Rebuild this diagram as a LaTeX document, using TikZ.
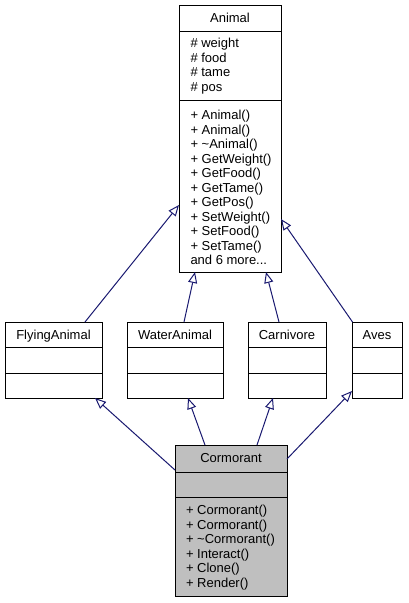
\documentclass[tikz,border=0pt]{standalone}
\usepackage{fontspec}
\setmainfont{Liberation Sans}
\usetikzlibrary{arrows.meta}
\definecolor{edgeblue}{HTML}{191970}
\definecolor{selgray}{HTML}{BFBFBF}
\tikzset{
  umlbox/.style={draw=black, line width=1pt, inner sep=0pt, outer sep=0pt, anchor=north west},
  sepline/.style={draw=black, line width=1pt},
  txt/.style={inner sep=0pt, outer sep=0pt, anchor=base west, font=\fontsize{13}{14.5}\selectfont},
  ttl/.style={inner sep=0pt, outer sep=0pt, anchor=base, font=\fontsize{13}{14.5}\selectfont},
  inh/.style={draw=edgeblue, line width=1pt, -{Triangle[open, length=11pt, width=9pt]}}
}
\begin{document}
\begin{tikzpicture}[x=1pt,y=-1pt]
\useasboundingbox (0,0) rectangle (408,603);
% Animal
\node[umlbox, minimum width=102pt, minimum height=267pt] (animal) at (179,5) {};
\draw[sepline] ([yshift=-26pt]animal.north west) -- ([yshift=-26pt]animal.north east);
\draw[sepline] ([yshift=-95pt]animal.north west) -- ([yshift=-95pt]animal.north east);
\node[ttl] (animalT) at (230,22.5) {Animal};
\foreach \t [count=\i] in {\# weight,\# food,\# tame,\# pos}
  \node[txt] (aa\i) at (190.5,{47.5+14.6*(\i-1)}) {\t};
\foreach \t [count=\i] in {+ Animal(),+ Animal(),+ \textasciitilde Animal(),+ GetWeight(),+ GetFood(),+ GetTame(),+ GetPos(),+ SetWeight(),+ SetFood(),+ SetTame()}
  \node[txt] (am\i) at (190.5,{119.5+14.5*(\i-1)}) {\t};
\node[txt] (am11) at (190.5,264.5) {and 6 more...};
% FlyingAnimal
\node[umlbox, minimum width=97pt, minimum height=76pt] (flying) at (5,322) {};
\draw[sepline] ([yshift=-25pt]flying.north west) -- ([yshift=-25pt]flying.north east);
\draw[sepline] ([yshift=-51pt]flying.north west) -- ([yshift=-51pt]flying.north east);
\node[ttl] (flyingT) at (53.5,339) {FlyingAnimal};
% WaterAnimal
\node[umlbox, minimum width=96pt, minimum height=76pt] (water) at (127,322) {};
\draw[sepline] ([yshift=-25pt]water.north west) -- ([yshift=-25pt]water.north east);
\draw[sepline] ([yshift=-51pt]water.north west) -- ([yshift=-51pt]water.north east);
\node[ttl] (waterT) at (175,339) {WaterAnimal};
% Carnivore
\node[umlbox, minimum width=78pt, minimum height=76pt] (carn) at (248,322) {};
\draw[sepline] ([yshift=-25pt]carn.north west) -- ([yshift=-25pt]carn.north east);
\draw[sepline] ([yshift=-51pt]carn.north west) -- ([yshift=-51pt]carn.north east);
\node[ttl] (carnT) at (287,339) {Carnivore};
% Aves
\node[umlbox, minimum width=50pt, minimum height=76pt] (aves) at (352,322) {};
\draw[sepline] ([yshift=-25pt]aves.north west) -- ([yshift=-25pt]aves.north east);
\draw[sepline] ([yshift=-51pt]aves.north west) -- ([yshift=-51pt]aves.north east);
\node[ttl] (avesT) at (377,339) {Aves};
% Cormorant
\node[umlbox, fill=selgray, minimum width=112pt, minimum height=151pt] (corm) at (175,445) {};
\draw[sepline] ([yshift=-27pt]corm.north west) -- ([yshift=-27pt]corm.north east);
\draw[sepline] ([yshift=-52pt]corm.north west) -- ([yshift=-52pt]corm.north east);
\node[ttl] (cormT) at (231,462.5) {Cormorant};
\foreach \t [count=\i] in {+ Cormorant(),+ Cormorant(),+ \textasciitilde Cormorant(),+ Interact(),+ Clone(),+ Render()}
  \node[txt] (cm\i) at (186,{514.5+14.5*(\i-1)}) {\t};
% inheritance edges to Animal
\draw[inh] ([xshift=80pt]flying.north west) -- ([yshift=-200pt]animal.north west);
\draw[inh] ([xshift=57pt]water.north west) -- ([xshift=16pt]animal.south west);
\draw[inh] ([xshift=31pt]carn.north west) -- ([xshift=87pt]animal.south west);
\draw[inh] ([xshift=0.5pt]aves.north west) -- ([yshift=-214pt]animal.north east);
% inheritance edges from Cormorant
\draw[inh] ([yshift=-25pt]corm.north west) -- ([xshift=90pt]flying.south west);
\draw[inh] ([xshift=30pt]corm.north west) -- ([xshift=61pt]water.south west);
\draw[inh] ([xshift=82pt]corm.north west) -- ([xshift=25pt]carn.south west);
\draw[inh] ([yshift=-14pt]corm.north east) -- ([yshift=-69pt]aves.north west);
\end{tikzpicture}
\end{document}
